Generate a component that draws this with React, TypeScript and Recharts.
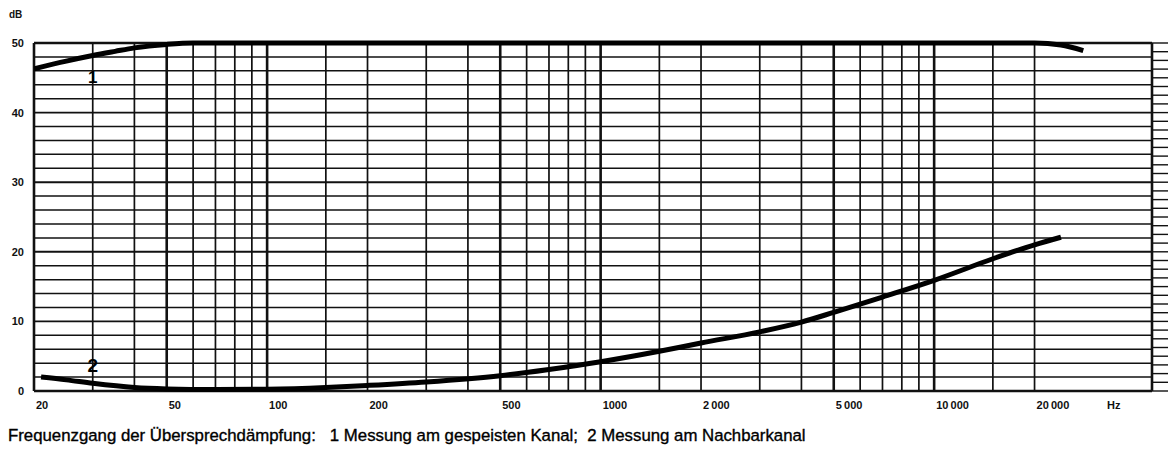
import {
  LineChart,
  Line,
  XAxis,
  YAxis,
  ReferenceLine,
  ReferenceDot,
} from 'recharts';

// curve 1: measurement on the driven channel
const FREQ_1 = [20, 25, 30, 35, 40, 50, 60, 80, 100, 1000, 10000, 20000, 24000, 28000];
const DB_1 = [46.3, 47.4, 48.2, 48.8, 49.3, 49.8, 50, 50, 50, 50, 50, 50, 49.7, 48.9];

// curve 2: measurement on the neighbouring channel
const FREQ_2 = [21, 25, 30, 40, 50, 70, 100, 150, 200, 300, 500, 700, 1000, 1500, 2000, 3000, 4000, 5000, 7000, 10000, 15000, 20000, 24000];
const DB_2 = [2.0, 1.6, 1.1, 0.5, 0.3, 0.2, 0.25, 0.5, 0.8, 1.3, 2.2, 3.1, 4.2, 5.7, 6.9, 8.5, 9.9, 11.3, 13.5, 15.9, 19.0, 21.0, 22.1];

const X_TICKS = [20, 50, 100, 200, 500, 1000, 2000, 5000, 10000, 20000];
const X_LABELS = ['20', '50', '100', '200', '500', '1000', '2\u2009000', '5\u2009000', '10\u2009000', '20\u2009000'];
const X_GRID = [30, 40, 50, 60, 70, 80, 90, 100, 150, 200, 300, 400, 500, 600, 700, 800, 900, 1000, 1500, 2000, 3000, 4000, 5000, 6000, 7000, 8000, 9000, 10000, 15000, 20000];
const X_BOLD = [50, 100, 500, 1000, 5000, 10000];
const Y_TICKS = [0, 10, 20, 30, 40, 50];
const Y_GRID = [2, 4, 6, 8, 10, 12, 14, 16, 18, 20, 22, 24, 26, 28, 30, 32, 34, 36, 38, 40, 42, 44, 46, 48];
const RIGHT_TICKS = Array.from({ length: 41 }, (_, i) => i * 1.25);

const X_MIN = 20;
const X_MAX = 45000;

const curve1 = FREQ_1.map((f, i) => ({ f, v: DB_1[i] }));
const curve2 = FREQ_2.map((f, i) => ({ f, v: DB_2[i] }));

const FONT = '"Liberation Sans", Arial, sans-serif';

function XTick({ x, y, payload }: any) {
  const idx = X_TICKS.indexOf(payload.value);
  return (
    <text x={x + 2} y={y + 10} textAnchor="start" fontFamily={FONT} fontSize={11} fontWeight="bold" fill="#111">
      {X_LABELS[idx]}
    </text>
  );
}

function YTick({ x, y, payload }: any) {
  return (
    <text x={x - 2} y={y + 4} textAnchor="end" fontFamily={FONT} fontSize={11} fontWeight="bold" fill="#111">
      {payload.value}
    </text>
  );
}

// right-hand scale: short ticks only, no numbers
function RightTick({ x, y }: any) {
  return <line x1={x} x2={x + 16} y1={y} y2={y} stroke="#111" strokeWidth={1.4} />;
}

function CurveLabel({ viewBox, value, size }: any) {
  const cx = viewBox.x + (viewBox.width || 0) / 2;
  const cy = viewBox.y + (viewBox.height || 0) / 2;
  return (
    <text x={cx} y={cy} textAnchor="middle" dominantBaseline="central" fontFamily={FONT} fontSize={size} fontWeight="bold" fill="#000">
      {value}
    </text>
  );
}

export default function App() {
  return (
    <div style={{ position: 'absolute', left: 0, top: 0, width: 1168, height: 455, background: '#fff' }}>
      <LineChart
        width={1168}
        height={455}
        margin={{ top: 43, right: 0, bottom: 44, left: 0 }}
      >
        <XAxis
          dataKey="f"
          type="number"
          scale="log"
          domain={[X_MIN, X_MAX]}
          ticks={X_TICKS}
          allowDataOverflow
          axisLine={false}
          tickLine={false}
          tick={<XTick />}
          height={20}
        />
        <YAxis
          type="number"
          domain={[0, 50]}
          ticks={Y_TICKS}
          axisLine={false}
          tickLine={false}
          tick={<YTick />}
          width={34}
        />
        <YAxis
          yAxisId="r"
          orientation="right"
          type="number"
          domain={[0, 50]}
          ticks={RIGHT_TICKS}
          interval={0}
          axisLine={false}
          tickLine={false}
          tickSize={0}
          tickMargin={0}
          tick={<RightTick />}
          width={16}
        />

        {Y_GRID.map(v => (
          <ReferenceLine key={`h-${v}`} y={v} stroke="#111" strokeWidth={v % 10 === 0 ? 1.9 : 1.5} />
        ))}
        {X_GRID.map(f => (
          <ReferenceLine key={`v-${f}`} x={f} stroke="#111" strokeWidth={X_BOLD.includes(f) ? 2.6 : 1.7} />
        ))}
        <ReferenceLine y={0} stroke="#111" strokeWidth={2.6} />
        <ReferenceLine y={50} stroke="#111" strokeWidth={2.6} />
        <ReferenceLine x={X_MIN} stroke="#111" strokeWidth={2.6} />
        <ReferenceLine x={X_MAX} stroke="#111" strokeWidth={2.6} />

        <Line
          data={curve1}
          dataKey="v"
          type="monotone"
          stroke="#000"
          strokeWidth={5}
          dot={false}
          isAnimationActive={false}
        />
        <Line
          data={curve2}
          dataKey="v"
          type="monotone"
          stroke="#000"
          strokeWidth={5}
          dot={false}
          isAnimationActive={false}
        />
        {/* keeps the right-hand scale bound to a series so it is drawn */}
        <Line
          yAxisId="r"
          data={curve2}
          dataKey="v"
          stroke="none"
          dot={false}
          activeDot={false}
          isAnimationActive={false}
        />

        <ReferenceDot
          x={30}
          y={45.1}
          r={0}
          stroke="none"
          label={<CurveLabel value="1" size={17} />}
        />
        <ReferenceDot
          x={30}
          y={3.6}
          r={0}
          stroke="none"
          label={<CurveLabel value="2" size={19} />}
        />
      </LineChart>

      <div style={{ position: 'absolute', left: 9, top: 9, fontFamily: FONT, fontSize: 10, fontWeight: 'bold', color: '#111' }}>
        dB
      </div>
      <div style={{ position: 'absolute', left: 1107, top: 399, fontFamily: FONT, fontSize: 11, fontWeight: 'bold', color: '#111' }}>
        Hz
      </div>
      <div style={{ position: 'absolute', left: 8, top: 426, fontFamily: FONT, fontSize: 16.8, color: '#000', whiteSpace: 'pre', WebkitTextStroke: '0.35px #000' }}>
        {'Frequenzgang der Übersprechdämpfung:   1 Messung am gespeisten Kanal;  2 Messung am Nachbarkanal'}
      </div>
    </div>
  );
}
